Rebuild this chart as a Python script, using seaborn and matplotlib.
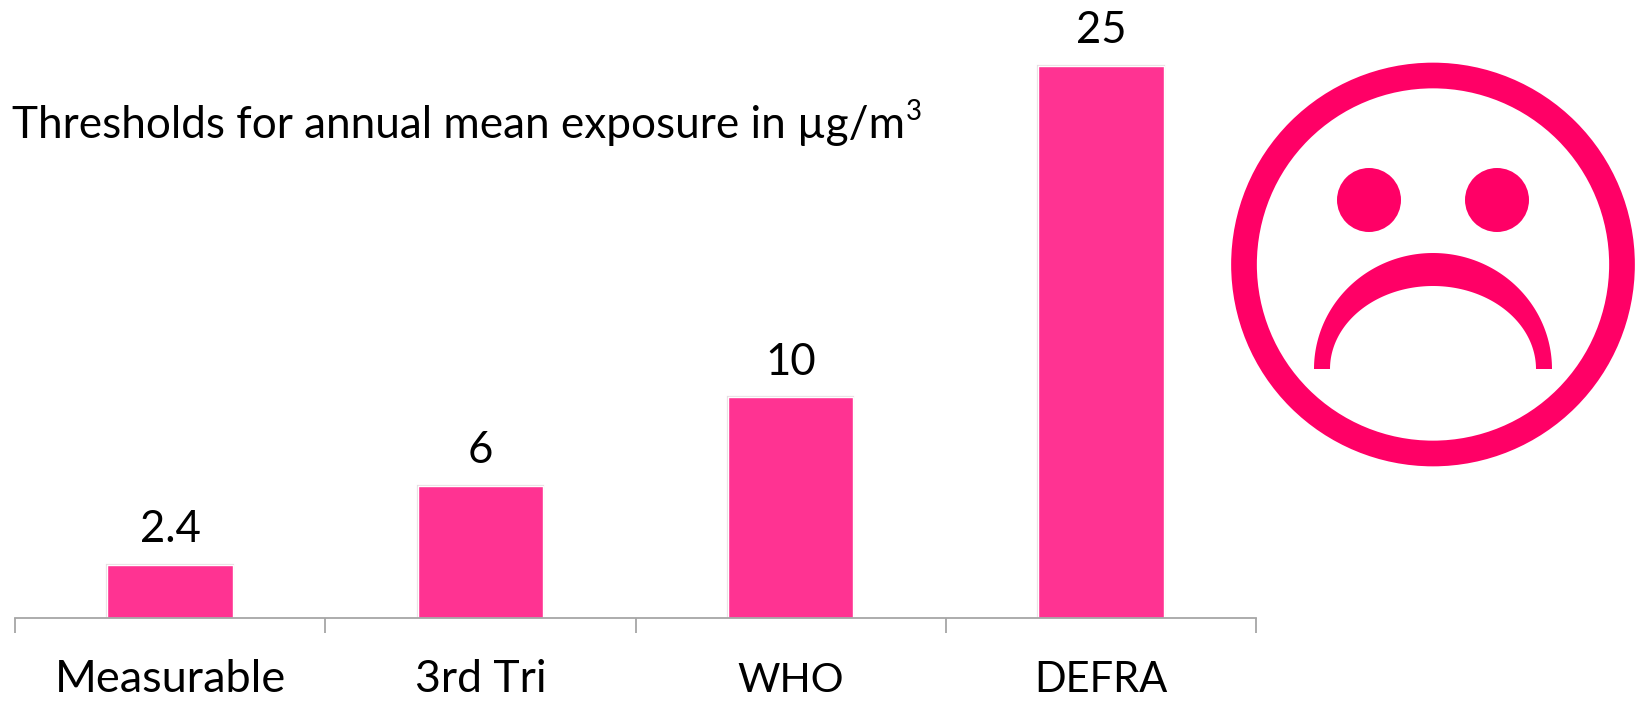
import numpy as np
import pandas as pd
import matplotlib
matplotlib.use("Agg")
import matplotlib.pyplot as plt
import matplotlib.patheffects as pe
from matplotlib.patches import Circle, Polygon
import seaborn as sns

categories = ["Measurable", "3rd Tri", "WHO", "DEFRA"]
values = [2.4, 6, 10, 25]
value_labels = ["2.4", "6", "10", "25"]
label_sizes = [32.5, 32, 29.5, 30]
title_text = "Thresholds for annual mean exposure in µg/m"

BAR = "#FF3392"
FACE = "#FF0066"
AXIS = "#A6A6A6"
W, H = 1645, 701

sns.set_theme(style="white")
plt.rcParams["font.family"] = ["Lato", "DejaVu Sans"]

fig = plt.figure(figsize=(W / 100, H / 100), dpi=100, facecolor="white")
ax = fig.add_axes([15 / W, (H - 618) / H, 1241 / W, 618 / H])
df = pd.DataFrame({"category": categories, "value": values})
sns.barplot(data=df, x="category", y="value", color=BAR, saturation=1, width=0.404, ax=ax)
ax.set_xlim(-0.5, 3.5)
ax.set_ylim(0, 618 / 22.08)
ax.set_xlabel("")
ax.set_ylabel("")
ax.set_yticks([])
for s in ["top", "left", "right"]:
    ax.spines[s].set_visible(False)
ax.spines["bottom"].set_color(AXIS)
ax.spines["bottom"].set_linewidth(1.3)
ax.spines["bottom"].set_zorder(5)
ax.set_xticks(range(4))
ax.set_xticklabels(categories, color="black")
ax.set_xticks(np.arange(-0.5, 4, 1), minor=True)
ax.tick_params(axis="x", which="major", length=0, pad=53.3)
ax.tick_params(axis="x", which="minor", length=10.5, width=1.3, color=AXIS, bottom=True)
for lbl, size in zip(ax.get_xticklabels(), label_sizes):
    lbl.set_fontsize(size)
    lbl.set_verticalalignment("baseline")
for b, lab in zip(ax.patches, value_labels):
    b.set_path_effects([pe.Stroke(linewidth=1.6, foreground="#E6DDE1"), pe.Normal()])
    ax.annotate(lab, (b.get_x() + b.get_width() / 2, b.get_height()), xytext=(0, 10.5),
                textcoords="offset points", ha="center", va="bottom", fontsize=31.5,
                color="black")

# overlay in image pixel coordinates for text and the sad face
ov = fig.add_axes([0, 0, 1, 1], facecolor="none")
ov.set_xlim(0, W)
ov.set_ylim(H, 0)
ov.axis("off")
t = ov.text(12, 138, title_text, fontsize=31.8, color="black", va="baseline", ha="left")
fig.canvas.draw()
bb = t.get_window_extent()
ov.text(bb.x1 + 1, 120, "3", fontsize=20, color="black", va="baseline", ha="left")

ov.add_patch(Circle((1433, 264.5), 189, fill=False, ec=FACE, lw=25.7 * 0.72))
for ex in (1369, 1497):
    ov.add_patch(Circle((ex, 200), 32, fc=FACE, ec="none"))
th = np.linspace(0, np.pi, 120)
outer = np.c_[1433 + 119 * np.cos(th), 369 - 116 * np.sin(th)]
inner = np.c_[1433 + 103 * np.cos(th[::-1]), 369 - 83 * np.sin(th[::-1])]
ov.add_patch(Polygon(np.r_[outer, inner], closed=True, fc=FACE, ec="none"))

fig.savefig("out.png", dpi=100, facecolor="white")
